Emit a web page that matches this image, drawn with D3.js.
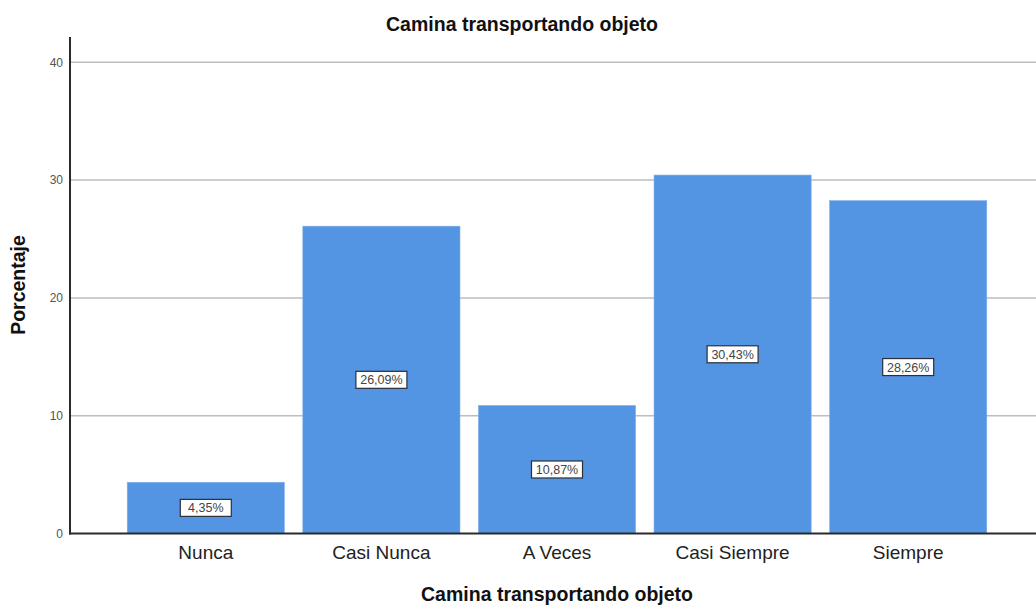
<!DOCTYPE html>
<html>
<head>
<meta charset="utf-8">
<script src="https://cdn.jsdelivr.net/npm/d3@7"></script>
<style>
  body { margin: 0; background: #fff; }
  svg { display: block; font-family: "Liberation Sans", Arial, sans-serif; }
</style>
</head>
<body>
<div id="chart"></div>
<script>
// Data
var categories = ["Nunca", "Casi Nunca", "A Veces", "Casi Siempre", "Siempre"];
var percents = [4.35, 26.09, 10.87, 30.43, 28.26];
var yTicks = [0, 10, 20, 30, 40];

var width = 1036, height = 610;
var margin = {top: 37, right: 0, bottom: 76.5, left: 70};
var plotW = width - margin.left - margin.right,
    plotH = height - margin.top - margin.bottom;

var svg = d3.select("#chart").append("svg")
    .attr("width", width)
    .attr("height", height);

var g = svg.append("g")
    .attr("transform", "translate(" + margin.left + "," + margin.top + ")");

// Scales
var xScale = d3.scaleBand()
    .domain(categories)
    .range([48, 926])
    .paddingInner(0.105)
    .paddingOuter(0.0525);

var yScale = d3.scaleLinear()
    .domain([0, 42.15])
    .range([plotH, 0]);

// Gridlines
g.append("g").selectAll("line")
    .data(yTicks.filter(function (d) { return d > 0; }))
  .enter().append("line")
    .attr("x1", 0)
    .attr("x2", plotW)
    .attr("y1", function (d) { return yScale(d); })
    .attr("y2", function (d) { return yScale(d); })
    .attr("stroke", "#bdbdbd")
    .attr("stroke-width", 1.5);

// Bars
g.append("g").selectAll("rect")
    .data(percents)
  .enter().append("rect")
    .attr("x", function (d, i) { return xScale(categories[i]); })
    .attr("y", function (d) { return yScale(d); })
    .attr("width", xScale.bandwidth())
    .attr("height", function (d) { return plotH - yScale(d); })
    .attr("fill", "#5394e3")
    .attr("stroke", "#7fb0ec")
    .attr("stroke-width", 0.6);

// Value labels in boxes
var labels = g.append("g").selectAll("g")
    .data(percents)
  .enter().append("g")
    .attr("transform", function (d, i) {
      var cx = xScale(categories[i]) + xScale.bandwidth() / 2;
      var cy = (yScale(d) + plotH) / 2;
      return "translate(" + cx + "," + cy + ")";
    });

labels.append("rect")
    .attr("x", -25.5)
    .attr("y", -8.5)
    .attr("width", 51)
    .attr("height", 17)
    .attr("fill", "#fff")
    .attr("stroke", "#2b2f3a")
    .attr("stroke-width", 1.2);

labels.append("text")
    .attr("text-anchor", "middle")
    .attr("dy", "0.36em")
    .style("font-size", "12.5px")
    .attr("fill", "#444")
    .text(function (d) { return d.toFixed(2).replace(".", ",") + "%"; });

// Y axis
var yAxis = d3.axisLeft(yScale)
    .tickValues(yTicks)
    .tickSize(0)
    .tickPadding(7)
    .tickFormat(d3.format("d"));

var yAxisG = g.append("g").attr("class", "y-axis").call(yAxis);
yAxisG.select(".domain").remove();
yAxisG.selectAll("text")
    .style("font-size", "12px")
    .style("font-family", "Liberation Sans, Arial, sans-serif")
    .attr("fill", "#555");

g.append("line")
    .attr("x1", 0).attr("x2", 0)
    .attr("y1", 0).attr("y2", plotH + 1)
    .attr("stroke", "#2a2a2a")
    .attr("stroke-width", 2);

// X axis
var xAxis = d3.axisBottom(xScale).tickSize(0).tickPadding(12);
var xAxisG = g.append("g")
    .attr("class", "x-axis")
    .attr("transform", "translate(0," + plotH + ")")
    .call(xAxis);
xAxisG.select(".domain").remove();
xAxisG.selectAll("text")
    .style("font-size", "19px")
    .style("font-family", "Liberation Sans, Arial, sans-serif")
    .attr("fill", "#222");

g.append("line")
    .attr("x1", -1).attr("x2", plotW)
    .attr("y1", plotH).attr("y2", plotH)
    .attr("stroke", "#2a2a2a")
    .attr("stroke-width", 2);

// Titles
svg.append("text")
    .attr("x", 522)
    .attr("y", 31)
    .attr("text-anchor", "middle")
    .style("font-size", "19.5px")
    .style("font-weight", "bold")
    .attr("fill", "#111")
    .text("Camina transportando objeto");

svg.append("text")
    .attr("x", 557)
    .attr("y", 601)
    .attr("text-anchor", "middle")
    .style("font-size", "19.5px")
    .style("font-weight", "bold")
    .attr("fill", "#111")
    .text("Camina transportando objeto");

svg.append("text")
    .attr("transform", "rotate(-90)")
    .attr("x", -285)
    .attr("y", 25)
    .attr("text-anchor", "middle")
    .style("font-size", "19.5px")
    .style("font-weight", "bold")
    .attr("fill", "#111")
    .text("Porcentaje");
</script>
</body>
</html>
